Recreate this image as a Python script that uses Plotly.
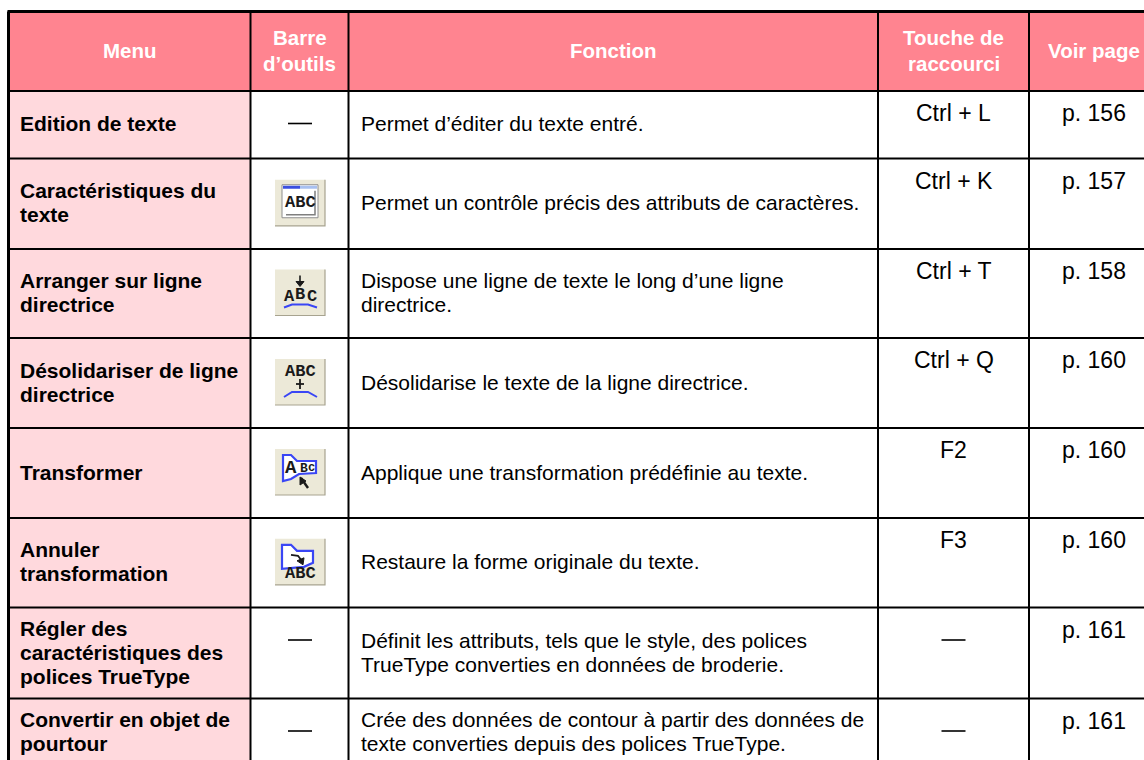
import plotly.graph_objects as go

# ---- content ----
headers = [["Menu"], ["Barre", "d’outils"], ["Fonction"], ["Touche de", "raccourci"], ["Voir page"]]
menu = [["Edition de texte"], ["Caractéristiques du", "texte"], ["Arranger sur ligne", "directrice"],
        ["Désolidariser de ligne", "directrice"], ["Transformer"], ["Annuler", "transformation"],
        ["Régler des", "caractéristiques des", "polices TrueType"], ["Convertir en objet de", "pourtour"]]
fonction = [["Permet d’éditer du texte entré."],
            ["Permet un contrôle précis des attributs de caractères."],
            ["Dispose une ligne de texte le long d’une ligne", "directrice."],
            ["Désolidarise le texte de la ligne directrice."],
            ["Applique une transformation prédéfinie au texte."],
            ["Restaure la forme originale du texte."],
            ["Définit les attributs, tels que le style, des polices", "TrueType converties en données de broderie."],
            ["Crée des données de contour à partir des données de", "texte converties depuis des polices TrueType."]]
touche = ["Ctrl + L", "Ctrl + K", "Ctrl + T", "Ctrl + Q", "F2", "F3", "—", "—"]
pages = ["p. 156", "p. 157", "p. 158", "p. 160", "p. 160", "p. 160", "p. 161", "p. 161"]
icons = [None, "abc", "on", "off", "tr", "un", None, None]

# ---- layout ----
col_x = [8.5, 250.5, 348.5, 878, 1029, 1146]
row_y = [11.5, 91, 158.5, 249, 338, 428, 518, 607.5, 698.5, 762]
FONT = "Liberation Sans"
MONO = "Liberation Mono"
FS = 21
RS = 23
HS = 20.5
LH = 24
HEAD = "#FF8490"
SIDE = "#FFD9DD"
BLACK = "#000000"
BLUE = "#3A46F5"
INK = "#1A1A1A"
W, H = 1144, 760

shapes, ann = [], []
def rect(x0, y0, x1, y1, fill, line=None, lw=0):
    shapes.append(dict(type="rect", x0=x0, y0=y0, x1=x1, y1=y1, fillcolor=fill,
                       line=dict(width=lw, color=line or fill), layer="below"))
def seg(x0, y0, x1, y1, w=2, c=BLACK):
    shapes.append(dict(type="line", x0=x0, y0=y0, x1=x1, y1=y1, line=dict(width=w, color=c)))
def poly(pts, w=2, c=BLUE, close=False, fill=None):
    p = "M " + " L ".join(f"{a:.1f} {b:.1f}" for a, b in pts) + (" Z" if close else "")
    shapes.append(dict(type="path", path=p, line=dict(width=w, color=c),
                       fillcolor=fill if fill else "rgba(0,0,0,0)"))
def text(x, y, s, size=FS, bold=False, color=BLACK, anchor="left", fam=FONT):
    ann.append(dict(x=x, y=y, text=f"<b>{s}</b>" if bold else s, showarrow=False, xanchor=anchor, yanchor="middle",
                    font=dict(family=fam, size=size, color=color), align=anchor, xref="x", yref="y",
                    borderpad=0, borderwidth=0))
def lines(x, yc, ls, lh=LH, **kw):
    n = len(ls)
    for i, s in enumerate(ls):
        text(x, yc + (i - (n - 1) / 2) * lh, s, **kw)
def mono(x, y, s, size=17):
    text(x, y, s, size=size, bold=True, anchor="center", fam=MONO, color=INK)

def icon(kind, cx, cy):
    rect(cx - 25, cy - 23, cx + 25, cy + 23, "#ECE9D8")
    poly([(cx - 25, cy + 23), (cx + 25, cy + 23), (cx + 25, cy - 23)], 1.2, "#A7A38F")
    if kind == "abc":
        rect(cx - 18, cy - 18, cx + 18, cy + 15, "#FFFFFF", "#8E8E8E", 1)
        rect(cx - 17, cy - 17, cx, cy - 14, "#3A4FE0")
        rect(cx, cy - 17, cx + 17, cy - 14, "#A8C0F0")
        poly([(cx - 14, cy + 12), (cx + 15, cy + 12), (cx + 15, cy - 12)], 1.5, "#7F7F7F")
        mono(cx, cy, "ABC")
    elif kind == "on":
        seg(cx, cy - 17, cx, cy - 9, 1.6, INK)
        poly([(cx - 4, cy - 11), (cx + 4, cy - 11), (cx, cy - 6)], 1, INK, True, INK)
        mono(cx - 11, cy + 4, "A")
        mono(cx, cy + 2, "B")
        mono(cx + 12, cy + 4, "C")
        poly([(cx - 16, cy + 15), (cx - 8, cy + 12), (cx + 8, cy + 12), (cx + 17, cy + 15)])
    elif kind == "off":
        mono(cx, cy - 11, "ABC")
        seg(cx, cy - 3, cx, cy + 7, 1.8, INK)
        seg(cx - 4, cy + 2, cx + 4, cy + 2, 1.8, INK)
        poly([(cx - 16, cy + 15), (cx - 8, cy + 10), (cx + 8, cy + 10), (cx + 17, cy + 15)])
    elif kind == "tr":
        poly([(cx - 17, cy - 17), (cx - 9, cy - 17), (cx - 3, cy - 11), (cx + 16, cy - 11), (cx + 16, cy + 1),
              (cx - 1, cy + 2), (cx - 9, cy + 7), (cx - 17, cy + 9)], 2.2, BLUE, True, "#FFFFFF")
        mono(cx - 9, cy - 4, "A", 19)
        mono(cx + 4, cy - 4, "B", 13)
        mono(cx + 11, cy - 4, "c", 12)
        poly([(cx, cy + 5), (cx, cy + 13), (cx + 6, cy + 9)], 1, INK, True, INK)
        seg(cx + 1, cy + 6, cx + 8, cy + 16, 2.4, INK)
    else:
        poly([(cx - 18, cy - 17), (cx - 9, cy - 17), (cx - 3, cy - 11), (cx + 13, cy - 11), (cx + 13, cy + 1),
              (cx + 4, cy + 5), (cx - 18, cy + 7)], 2.2, BLUE, True, "#FFFFFF")
        poly([(cx - 9, cy - 7), (cx - 2, cy - 6), (cx + 1, cy - 2)], 1.8, INK)
        poly([(cx - 3, cy - 1), (cx + 4, cy - 4), (cx + 3, cy + 3)], 1, INK, True, INK)
        mono(cx, cy + 12, "ABC")

rect(col_x[0], row_y[0], col_x[-1], row_y[1], HEAD)
rect(col_x[0], row_y[1], col_x[1], row_y[-1], SIDE)

for i, h in enumerate(headers):
    lines((col_x[i] + col_x[i + 1]) / 2 + (6 if i == 4 else 0), (row_y[0] + row_y[1]) / 2 - 1, h, lh=26.5,
          size=HS, bold=True, color="#FFFFFF", anchor="center")

for r in range(8):
    top, bot = row_y[r + 1], row_y[r + 2]
    mid = (top + bot) / 2 - 1
    if r == 7:
        mid = 731.5
    lines(20, mid, menu[r], bold=True)
    lines(361, mid, fonction[r])
    ytop = top + 22
    tx = (col_x[3] + col_x[4]) / 2
    px = (col_x[4] + col_x[5]) / 2 + 6
    dash_y = top + 32.5
    if touche[r] == "—":
        seg(tx - 12, dash_y, tx + 12, dash_y, 1.6)
    else:
        text(tx, ytop, touche[r], anchor="center", size=RS)
    text(px, ytop, pages[r], anchor="center", size=RS)
    cx = (col_x[1] + col_x[2]) / 2 + 0.5
    if icons[r] is None:
        seg(cx - 12, dash_y, cx + 12, dash_y, 1.6)
    else:
        icon(icons[r], cx, mid)

for y in row_y[:-1]:
    seg(col_x[0] - 1, y, W + 2, y, 3 if y == row_y[0] else 2)
seg(col_x[0], row_y[0], col_x[0], H + 2, 3)
for x in col_x[1:-1]:
    seg(x, row_y[0], x, H + 2, 2)

fig = go.Figure()
fig.update_layout(width=W, height=H, margin=dict(l=0, r=0, t=0, b=0), paper_bgcolor="#FFFFFF", plot_bgcolor="#FFFFFF",
                  xaxis=dict(range=[0, W], visible=False, fixedrange=True),
                  yaxis=dict(range=[H, 0], visible=False, fixedrange=True),
                  shapes=shapes, annotations=ann, showlegend=False)
fig.write_html("out.html", config=dict(displayModeBar=False),
               post_script="document.body.style.margin='0';document.body.style.overflow='hidden';")
